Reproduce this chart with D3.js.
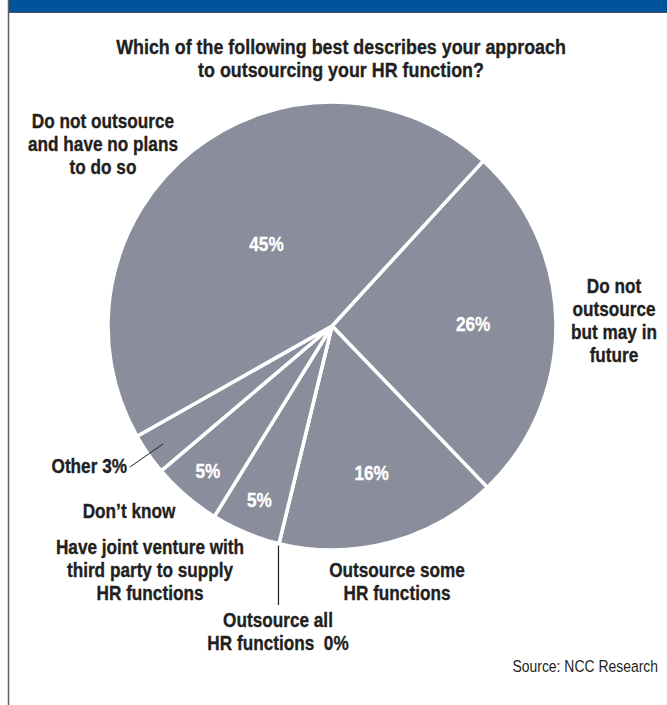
<!DOCTYPE html>
<html>
<head>
<meta charset="utf-8">
<script src="https://cdn.jsdelivr.net/npm/d3@7"></script>
<style>
  html, body { margin: 0; padding: 0; background: #ffffff; }
  svg { display: block; }
  .lbl { font-family: "Liberation Sans", Arial, sans-serif; font-weight: bold; fill: #231f20; stroke: #231f20; stroke-width: 0.35px; }
  .pct { fill: #ffffff; stroke: #ffffff; }
</style>
</head>
<body>
<div id="chart"></div>
<script>
// Survey answers, in clockwise order around the pie
const categories = [
  "Do not outsource but may in future",
  "Outsource some HR functions",
  "Outsource all HR functions",
  "Have joint venture with third party to supply HR functions",
  "Don't know",
  "Other",
  "Do not outsource and have no plans to do so"
];
const shares = [26, 16, 0, 5, 5, 3, 45];
const percentLabels = ["26%", "16%", "0%", "5%", "5%", "3%", "45%"];

const titleLines = [
  "Which of the following best describes your approach",
  "to outsourcing your HR function?"
];
const sourceText = "Source: NCC Research";

const W = 667, H = 705;
const SX = 0.86; // horizontal squeeze giving a condensed face
const svg = d3.select("#chart").append("svg").attr("width", W).attr("height", H);

// Frame: blue header strip and left rule
svg.append("rect").attr("x", 8).attr("y", 0).attr("width", W - 8).attr("height", 12).attr("fill", "#00549a");
svg.append("line").attr("x1", 8).attr("x2", W).attr("y1", 12.5).attr("y2", 12.5).attr("stroke", "#4a4f5a").attr("stroke-width", 1);
svg.append("line").attr("x1", 8.5).attr("x2", 8.5).attr("y1", 0).attr("y2", H).attr("stroke", "#5d5d5d").attr("stroke-width", 1.5);

// Multi-line text block centred (or anchored) on x, first baseline at y
function block(lines, x, y, opts) {
  const o = Object.assign({ anchor: "middle", size: 20, lead: 23, sx: SX, cls: "lbl" }, opts || {});
  const t = svg.append("text").attr("class", o.cls).attr("font-size", o.size)
    .attr("text-anchor", o.anchor)
    .attr("transform", `translate(${x},${y}) scale(${o.sx},1)`);
  t.selectAll("tspan").data(lines).join("tspan")
    .attr("x", 0).attr("y", (d, i) => i * o.lead).text(d => d);
  return t;
}

// Title
block(titleLines, 341, 54, { size: 20.8 });

// Pie
const cx = 332, cy = 326, R = 224;
const deg = Math.PI / 180;
const start = 42.5 * deg;
const pie = d3.pie().sort(null).value(d => d).startAngle(start).endAngle(start + 2 * Math.PI);
const arcs = pie(shares);
const arc = d3.arc().innerRadius(0).outerRadius(R);

const g = svg.append("g").attr("transform", `translate(${cx},${cy})`);
g.selectAll("path.slice").data(arcs).join("path")
  .attr("class", "slice")
  .attr("d", arc)
  .attr("fill", "#8a8d9c")
  .attr("stroke", "#ffffff")
  .attr("stroke-width", 3.5)
  .attr("stroke-linejoin", "round");

// In-slice percentages (radius as a fraction of R for each slice)
const labelRadius = [0.63, 0.68, 0, 0.84, 0.85, 0, 0.47];
const polar = (a, r) => [Math.sin(a) * r, -Math.cos(a) * r];
g.selectAll("text.pct").data(arcs.filter((d, i) => labelRadius[i] > 0)).join("text")
  .attr("class", "lbl pct")
  .attr("font-size", 20)
  .attr("text-anchor", "middle")
  .attr("dy", "0.36em")
  .attr("transform", d => {
    const a = (d.startAngle + d.endAngle) / 2;
    const p = polar(a, R * labelRadius[d.index]);
    return `translate(${p[0]},${p[1]}) scale(${SX},1)`;
  })
  .text(d => percentLabels[d.index]);

// Leader lines
const other = arcs[5];
const oa = (other.startAngle + other.endAngle) / 2;
const op = polar(oa, 206);
g.append("line").attr("x1", op[0]).attr("y1", op[1]).attr("x2", 130 - cx).attr("y2", 467 - cy)
  .attr("stroke", "#231f20").attr("stroke-width", 1);
const zero = arcs[2];
const zp = polar(zero.startAngle, R + 2);
g.append("line").attr("x1", zp[0]).attr("y1", zp[1]).attr("x2", zp[0]).attr("y2", 605 - cy)
  .attr("stroke", "#231f20").attr("stroke-width", 1.2);

// Category labels outside the pie
block(["Do not outsource", "and have no plans", "to do so"], 103, 128);
block(["Do not", "outsource", "but may in", "future"], 614, 293);
block(["Other " + percentLabels[5]], 127, 473, { anchor: "end" });
block([categories[4].replace("'", "\u2019")], 129, 518);
block(["Have joint venture with", "third party to supply", "HR functions"], 150, 554);
block(["Outsource some", "HR functions"], 397, 577);
block(["Outsource all", "HR functions\u00a0\u00a0" + percentLabels[2]], 278, 627);

// Source note
block([sourceText], 658, 672, { anchor: "end", size: 17, sx: 0.82, cls: "src" })
  .attr("font-family", "'Liberation Sans', Arial, sans-serif").attr("fill", "#231f20");
</script>
</body>
</html>
